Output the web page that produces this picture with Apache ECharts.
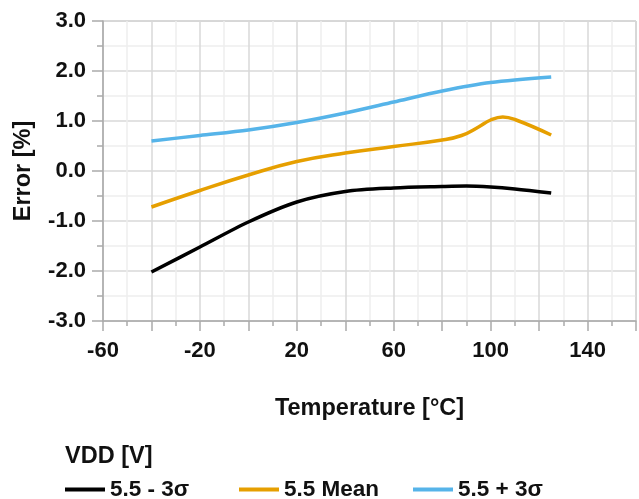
<!DOCTYPE html>
<html>
<head>
<meta charset="utf-8">
<script src="https://cdn.jsdelivr.net/npm/echarts@6/dist/echarts.min.js"></script>
<style>html,body{margin:0;padding:0;background:#fff}#c{width:639px;height:499px}</style>
</head>
<body>
<div id="c"></div>
<script>
const seriesNames = ['5.5 - 3σ', '5.5 Mean', '5.5 + 3σ'];
const seriesColors = ['#000000', '#E69F00', '#56B4E9'];
const lowTemps = [-40, -20, 0, 20, 40, 60, 80, 90, 100, 110, 125];
const lowVals = [-2.02, -1.52, -1.02, -0.62, -0.41, -0.34, -0.31, -0.30, -0.32, -0.36, -0.44];
const meanTemps = [-40, -20, 0, 20, 40, 60, 80, 88, 95, 100, 105, 110, 125];
const meanVals = [-0.72, -0.39, -0.08, 0.19, 0.36, 0.49, 0.62, 0.71, 0.88, 1.02, 1.08, 1.03, 0.72];
const highTemps = [-40, -20, 0, 20, 40, 60, 80, 100, 125];
const highVals = [0.60, 0.71, 0.82, 0.97, 1.16, 1.38, 1.60, 1.77, 1.88];
const xLabelValues = [-60, -20, 20, 60, 100, 140];

const FONT = "'Liberation Sans', Arial, sans-serif";
const zip = (xs, ys) => xs.map((x, i) => [x, ys[i]]);
const dataSets = [zip(lowTemps, lowVals), zip(meanTemps, meanVals), zip(highTemps, highVals)];
const smoothness = [0.3, 0.45, 0.3];

const chart = echarts.init(document.getElementById('c'), null, {renderer: 'canvas'});
const legendLefts = [65, 239, 413];
chart.setOption({
  animation: false,
  backgroundColor: '#fff',
  title: {text: 'VDD [V]', left: 60, top: 440, textStyle: {fontFamily: FONT, fontWeight: 'bold', fontSize: 23.5, color: '#111'}},
  legend: seriesNames.map((n, i) => ({
    data: [n], left: legendLefts[i], top: 478, padding: 0, icon: 'rect', itemWidth: 40, itemHeight: 4, itemGap: 0,
    textStyle: {fontFamily: FONT, fontWeight: 'bold', fontSize: 22.5, color: '#111'}
  })),
  grid: {left: 103, right: 1, top: 21, bottom: 178, show: true, borderColor: '#aaaaaa', borderWidth: 1, containLabel: false},
  xAxis: {
    type: 'value', min: -60, max: 160, interval: 20,
    name: 'Temperature [°C]', nameLocation: 'middle', nameGap: 76,
    nameTextStyle: {fontFamily: FONT, fontWeight: 'bold', fontSize: 23.5, color: '#111'},
    axisLine: {show: true, onZero: false, lineStyle: {color: '#aaaaaa', width: 1.5}},
    axisTick: {show: true, length: 10, lineStyle: {color: '#aaaaaa', width: 1.5}},
    minorTick: {show: true, splitNumber: 2, length: 5, lineStyle: {color: '#aaaaaa', width: 1.5}},
    splitLine: {show: true, lineStyle: {color: '#d9d9d9', width: 1.5}},
    minorSplitLine: {show: true, lineStyle: {color: '#eeeeee', width: 1.5}},
    axisLabel: {margin: 19, fontFamily: FONT, fontWeight: 'bold', fontSize: 22, color: '#111',
      formatter: v => xLabelValues.indexOf(v) >= 0 ? String(v) : ''}
  },
  yAxis: {
    type: 'value', min: -3, max: 3, interval: 1,
    name: 'Error [%]', nameLocation: 'middle', nameGap: 67,
    nameTextStyle: {fontFamily: FONT, fontWeight: 'bold', fontSize: 23.5, color: '#111'},
    axisLine: {show: true, onZero: false, lineStyle: {color: '#aaaaaa', width: 1.5}},
    axisTick: {show: true, length: 11, lineStyle: {color: '#aaaaaa', width: 1.5}},
    minorTick: {show: true, splitNumber: 2, length: 6, lineStyle: {color: '#aaaaaa', width: 1.5}},
    splitLine: {show: true, lineStyle: {color: '#d9d9d9', width: 1.5}},
    minorSplitLine: {show: true, lineStyle: {color: '#eeeeee', width: 1.5}},
    axisLabel: {margin: 17, fontFamily: FONT, fontWeight: 'bold', fontSize: 22, color: '#111',
      formatter: v => v.toFixed(1)}
  },
  series: seriesNames.map((n, i) => ({
    name: n, type: 'line', data: dataSets[i], smooth: smoothness[i], showSymbol: false, symbol: 'none',
    lineStyle: {color: seriesColors[i], width: 3.5}, itemStyle: {color: seriesColors[i]}, z: 3
  }))
});
</script>
</body>
</html>
